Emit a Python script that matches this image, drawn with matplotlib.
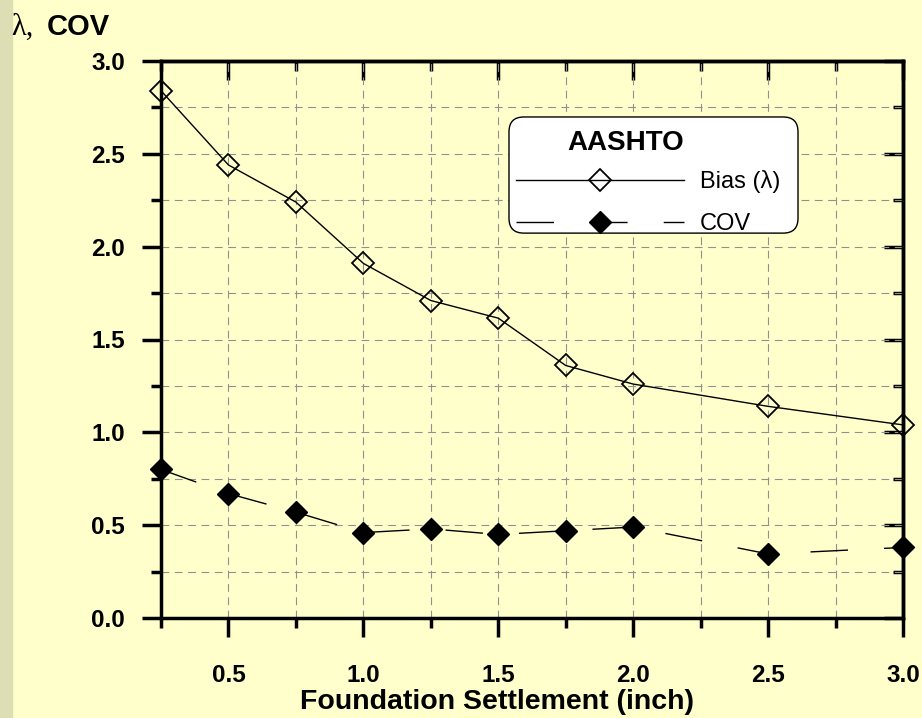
import numpy as np
import matplotlib.pyplot as plt
from matplotlib.ticker import MultipleLocator, FormatStrFormatter
from matplotlib.patches import Rectangle, FancyBboxPatch

# Data
settlement = [0.25, 0.5, 0.75, 1.0, 1.25, 1.5, 1.75, 2.0, 2.5, 3.0]
bias = [2.84, 2.44, 2.24, 1.91, 1.71, 1.615, 1.36, 1.26, 1.14, 1.04]
cov = [0.80, 0.67, 0.57, 0.46, 0.48, 0.45, 0.47, 0.49, 0.345, 0.38]

bg = "#FFFFCC"
plt.rcParams["font.family"] = ["Liberation Sans", "DejaVu Sans"]

fig = plt.figure(figsize=(9.22, 7.18), dpi=100, facecolor=bg)
# darker strip on the left edge
fig.patches.append(Rectangle((0, 0), 12 / 922, 1, transform=fig.transFigure,
                             color="#DEDEB5", zorder=0))

ax = fig.add_axes([161 / 922, 100 / 718, 742 / 922, 557 / 718])
ax.set_facecolor(bg)

# Bias: solid line, open diamonds
ax.plot(settlement, bias, color="black", lw=1.0, marker="D", ms=11,
        mfc="none", mec="black", mew=1.3, clip_on=False, zorder=5,
        label="Bias (\u03bb)")
# COV: long dashes, filled diamonds
ax.plot(settlement, cov, color="black", lw=1.0, ls=(0, (27, 26)),
        marker="D", ms=11, mfc="black", mec="black", clip_on=False,
        zorder=5, label="COV")

ax.set_xlim(0.25, 3.0)
ax.set_ylim(0.0, 3.0)

ax.xaxis.set_major_locator(MultipleLocator(0.5))
ax.xaxis.set_minor_locator(MultipleLocator(0.25))
ax.yaxis.set_major_locator(MultipleLocator(0.5))
ax.yaxis.set_minor_locator(MultipleLocator(0.25))
ax.xaxis.set_major_formatter(FormatStrFormatter("%.1f"))
ax.yaxis.set_major_formatter(FormatStrFormatter("%.1f"))

ax.grid(True, which="both", color="#909090", lw=0.8, ls=(0, (7, 5)))
ax.set_axisbelow(True)

for s in ax.spines.values():
    s.set_linewidth(2.5)

ax.tick_params(which="major", direction="out", length=14, width=2.5,
               labelsize=17.5)
ax.tick_params(axis="x", which="major", pad=19)
ax.tick_params(axis="y", which="major", pad=12)
ax.tick_params(which="minor", direction="out", length=7, width=2.5)
for lbl in ax.get_xticklabels() + ax.get_yticklabels():
    lbl.set_fontweight("bold")

# inward ticks on top and right
top = ax.secondary_xaxis("top")
top.xaxis.set_major_locator(MultipleLocator(0.5))
top.xaxis.set_minor_locator(MultipleLocator(0.25))
top.tick_params(which="major", direction="in", length=14, width=2.5,
                labeltop=False)
top.tick_params(which="minor", direction="in", length=7, width=2.5)
top.spines["top"].set_linewidth(2.5)

right = ax.secondary_yaxis("right")
right.yaxis.set_major_locator(MultipleLocator(0.5))
right.yaxis.set_minor_locator(MultipleLocator(0.25))
right.tick_params(which="major", direction="in", length=14, width=2.5,
                  labelright=False)
right.tick_params(which="minor", direction="in", length=7, width=2.5)
right.spines["right"].set_linewidth(2.5)

# axis labels
xl = ax.set_xlabel("Foundation Settlement (inch)", fontsize=20.5,
                   fontweight="bold")
xl.set_va("baseline")
ax.xaxis.set_label_coords(0.453, -0.163)

fig.text(11 / 922, 1 - 35 / 718, "\u03bb,", fontsize=22,
         family=["Liberation Serif", "DejaVu Serif"], va="baseline")
fig.text(47 / 922, 1 - 35 / 718, "COV", fontsize=21, fontweight="bold",
         va="baseline")

# legend: rounded white box, bold title, two entries
box = FancyBboxPatch((0.469, 0.691), 0.3895, 0.2085, transform=ax.transAxes,
                     boxstyle="round,pad=0,rounding_size=0.02",
                     mutation_aspect=742 / 557, facecolor="white",
                     edgecolor="black", lw=1.0, zorder=6)
ax.add_patch(box)
ax.text(0.6267, 0.8528, "AASHTO", transform=ax.transAxes, fontsize=20,
        fontweight="bold", ha="center", va="center", zorder=7)
leg = ax.legend(loc="center left", bbox_to_anchor=(0.4737, 0.7460),
                fontsize=17, handlelength=7.1, handletextpad=0.7,
                labelspacing=0.86, borderpad=0.15, borderaxespad=0,
                frameon=False)
leg.set_zorder(8)

fig.savefig("out.png", dpi=100, facecolor=bg)
